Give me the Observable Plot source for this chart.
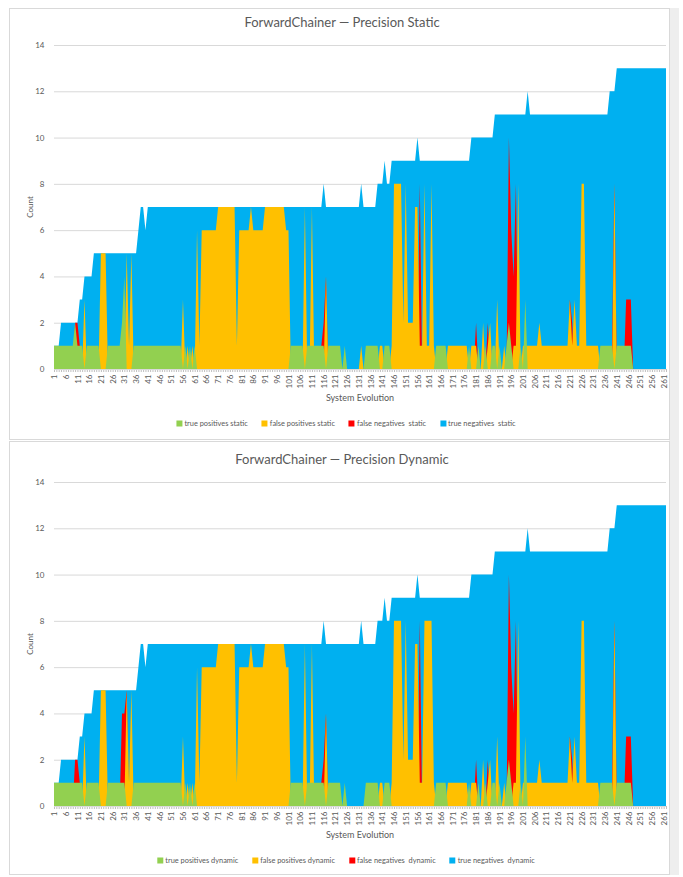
<!DOCTYPE html>
<html>
<head>
<meta charset="utf-8">
<script src="https://cdn.jsdelivr.net/npm/d3@7"></script>
<script src="https://cdn.jsdelivr.net/npm/@observablehq/plot@0.6"></script>
<style>
  html, body { margin: 0; padding: 0; background: #ffffff; }
  body { width: 683px; height: 877px; position: relative; overflow: hidden; font-family: Lato, "Open Sans", sans-serif; color: #595959; }
  .frame { position: absolute; border: 1px solid #d9d9d9; box-sizing: border-box; background: #ffffff; }
  .band { position: absolute; background: #eeeeee; }
  .txt { position: absolute; white-space: nowrap; color: #595959; }
  .legend { position: absolute; display: flex; gap: 14px; align-items: center; transform: translate(-50%, -50%); font-size: 7.4px; color: #595959; white-space: nowrap; }
  .legend .item { display: flex; align-items: center; }
  .legend .sw { width: 6px; height: 6px; margin-right: 2px; }
  svg [aria-label="x-axis tick"] path { stroke: #bfbfbf; }
</style>
</head>
<body>
<script>
// ---------- data ----------
const evolution = [
1,2,3,4,5,6,7,8,9,10,
11,12,13,14,15,16,17,18,19,20,
21,22,23,24,25,26,27,28,29,30,
31,32,33,34,35,36,37,38,39,40,
41,42,43,44,45,46,47,48,49,50,
51,52,53,54,55,56,57,58,59,60,
61,62,63,64,65,66,67,68,69,70,
71,72,73,74,75,76,77,78,79,80,
81,82,83,84,85,86,87,88,89,90,
91,92,93,94,95,96,97,98,99,100,
101,102,103,104,105,106,107,108,109,110,
111,112,113,114,115,116,117,118,119,120,
121,122,123,124,125,126,127,128,129,130,
131,132,133,134,135,136,137,138,139,140,
141,142,143,144,145,146,147,148,149,150,
151,152,153,154,155,156,157,158,159,160,
161,162,163,164,165,166,167,168,169,170,
171,172,173,174,175,176,177,178,179,180,
181,182,183,184,185,186,187,188,189,190,
191,192,193,194,195,196,197,198,199,200,
201,202,203,204,205,206,207,208,209,210,
211,212,213,214,215,216,217,218,219,220,
221,222,223,224,225,226,227,228,229,230,
231,232,233,234,235,236,237,238,239,240,
241,242,243,244,245,246,247,248,249,250,
251,252,253,254,255,256,257,258,259,260,
261,262];

const tickLabels = [1,6,11,16,21,26,31,36,41,46,51,56,61,66,71,76,81,86,91,96,101,106,111,116,121,126,131,136,141,146,151,156,161,166,171,176,181,186,191,196,201,206,211,216,221,226,231,236,241,246,251,256,261];
const yTicks = [0,2,4,6,8,10,12,14];

const seriesNames = ["true positives", "false positives", "false negatives ", "true negatives "];
const seriesColors = ["#92d050", "#ffc000", "#ff0000", "#00b0f0"];

// ---- static ----
const tpStatic = [
1,1,1,1,1,1,1,1,1,2,
1,1,1,0,1,1,1,1,1,1,
0,0,0,1,1,1,1,1,1,2,
4,0,0,0,1,1,1,1,1,1,
1,1,1,1,1,1,1,1,1,1,
1,1,1,1,1,0,1,0,1,0,
1,0,0,0,0,0,0,0,0,0,
0,0,0,0,0,0,0,0,0,0,
0,0,0,0,0,0,0,0,0,0,
0,0,0,0,0,0,0,0,0,0,
0,1,1,1,1,1,1,0,1,1,
1,1,1,1,1,1,0,1,1,1,
1,1,1,0,1,0,0,0,0,0,
0,0,0,1,1,1,1,1,1,0,
0,1,1,1,0,0,0,0,0,0,
0,0,0,0,0,0,0,0,0,0,
0,0,0,1,1,1,1,1,0,0,
0,0,0,0,0,0,0,1,0,0,
0,1,0,0,1,0,0,1,1,0,
1,0,0,1,2,1,0,0,0,1,
0,3,0,0,0,0,0,0,0,0,
0,0,0,0,0,0,0,0,0,0,
0,0,0,0,0,0,0,0,0,0,
0,0,0,1,1,1,1,1,1,0,
1,1,1,1,1,1,1,0,0,0,
0,0,0,0,0,0,0,0,0,0,
0,0];

const fpStatic = [
0,0,0,0,0,0,0,0,0,0,
0,0,0,3,0,0,0,0,0,0,
5,5,5,0,0,0,0,0,0,0,
0,5,1,5,0,0,0,0,0,0,
0,0,0,0,0,0,0,0,0,0,
0,0,0,0,0,3,0,1,0,1,
0,6,1,6,6,6,6,6,6,6,
7,7,7,7,7,7,7,7,1,6,
6,6,6,6,7,6,6,6,6,6,
7,7,7,7,7,7,7,7,7,6,
6,0,0,0,0,0,0,7,0,0,
7,0,0,0,0,0,4,0,0,0,
0,0,0,0,0,0,0,0,0,0,
0,1,0,0,0,0,0,0,0,1,
1,0,0,0,1,8,8,8,8,2,
8,2,2,2,7,7,1,1,8,1,
1,8,1,0,0,0,0,0,1,1,
1,1,1,1,1,1,1,0,1,1,
1,0,0,2,0,1,2,0,0,3,
0,0,1,0,0,0,1,1,8,0,
1,1,1,1,1,1,1,2,1,1,
1,1,1,1,1,1,1,1,1,1,
3,1,3,1,1,8,8,1,1,1,
1,1,1,0,0,0,0,0,0,8,
0,0,0,0,0,0,0,0,0,0,
0,0,0,0,0,0,0,0,0,0,
0,0];

const fnStatic = [
0,0,0,0,0,0,0,0,0,2,
2,1,0,0,0,0,0,0,0,0,
0,0,0,0,0,0,0,0,0,0,
0,0,0,0,0,0,0,0,0,0,
0,0,0,0,0,0,0,0,0,0,
0,0,0,0,0,0,0,0,0,0,
0,0,0,0,0,0,0,0,0,0,
0,0,0,0,0,0,0,0,0,0,
0,0,0,0,0,0,0,0,0,0,
0,0,0,0,0,0,0,0,0,0,
0,0,0,0,0,0,0,0,0,0,
0,0,0,0,1,2,4,0,0,0,
0,0,0,0,0,0,0,0,0,0,
0,0,0,0,0,0,0,0,0,0,
0,0,0,0,0,0,0,0,0,0,
0,0,0,0,0,0,8,0,0,0,
0,0,0,0,0,0,0,0,0,0,
0,0,0,0,0,0,0,0,0,0,
2,0,0,0,0,2,0,0,0,0,
0,0,0,0,10,6,4,8,0,0,
0,0,0,0,0,0,0,0,0,0,
0,0,0,0,0,0,0,0,0,0,
3,2,0,0,0,0,0,0,0,0,
0,0,0,0,0,0,0,0,1,8,
0,0,0,0,3,3,3,0,0,0,
0,0,0,0,0,0,0,0,0,0,
0,0];

const tnStatic = [
1,1,1,2,2,2,2,2,2,2,
2,3,3,4,4,4,4,5,5,5,
5,5,5,5,5,5,5,5,5,5,
5,5,5,5,5,5,6,7,7,6,
7,7,7,7,7,7,7,7,7,7,
7,7,7,7,7,7,7,7,7,7,
7,7,7,7,7,7,7,7,7,7,
7,7,7,7,7,7,7,7,7,7,
7,7,7,7,7,7,7,7,7,7,
7,7,7,7,7,7,7,7,7,7,
7,7,7,7,7,7,7,7,7,7,
7,7,7,7,7,8,7,7,7,7,
7,7,7,7,7,7,7,7,7,7,
7,8,7,7,7,7,7,7,8,8,
8,9,8,8,9,9,9,9,9,9,
9,9,9,9,9,10,9,9,9,9,
9,9,9,9,9,9,9,9,9,9,
9,9,9,9,9,9,9,9,10,10,
10,10,10,10,10,10,10,10,11,11,
11,11,11,11,11,11,11,11,11,11,
11,11,12,11,11,11,11,11,11,11,
11,11,11,11,11,11,11,11,11,11,
11,11,11,11,11,11,11,11,11,11,
11,11,11,11,11,11,11,12,12,12,
13,13,13,13,13,13,13,13,13,13,
13,13,13,13,13,13,13,13,13,13,
13,13];

// ---- dynamic ----
const tpDynamic = [
1,1,1,1,1,1,1,1,1,1,
1,1,1,0,1,1,1,1,1,1,
0,0,0,1,1,1,1,1,1,1,
1,0,0,0,1,1,1,1,1,1,
1,1,1,1,1,1,1,1,1,1,
1,1,1,1,1,0,1,0,1,0,
1,0,0,0,0,0,0,0,0,0,
0,0,0,0,0,0,0,0,0,0,
0,0,0,0,0,0,0,0,0,0,
0,0,0,0,0,0,0,0,0,0,
0,1,1,1,1,1,1,0,1,1,
1,1,1,1,1,1,0,1,1,1,
1,1,1,0,1,0,0,0,0,0,
0,0,0,1,1,1,1,1,1,0,
0,1,1,1,0,0,0,0,0,0,
0,0,0,0,0,0,0,0,0,0,
0,0,0,1,1,1,1,1,0,0,
0,0,0,0,0,0,0,1,0,0,
0,1,0,0,1,0,0,1,1,0,
1,0,0,1,2,1,0,0,0,1,
0,3,0,0,0,0,0,0,0,0,
0,0,0,0,0,0,0,0,0,0,
0,0,0,0,0,0,0,0,0,0,
0,0,0,1,1,1,1,1,1,0,
1,1,1,1,1,1,1,0,0,0,
0,0,0,0,0,0,0,0,0,0,
0,0];

const fpDynamic = [
0,0,0,0,0,0,0,0,0,0,
0,0,0,3,0,0,0,0,0,0,
5,5,5,0,0,0,0,0,0,0,
0,5,1,5,0,0,0,0,0,0,
0,0,0,0,0,0,0,0,0,0,
0,0,0,0,0,3,0,1,0,1,
0,6,1,6,6,6,6,6,6,6,
7,7,7,7,7,7,7,7,1,6,
6,6,6,6,7,6,6,6,6,6,
7,7,7,7,7,7,7,7,7,6,
6,0,0,0,0,0,0,7,0,0,
7,0,0,0,0,0,4,0,0,0,
0,0,0,0,0,0,0,0,0,0,
0,0,0,0,0,0,0,0,0,1,
1,0,0,0,1,8,8,8,8,2,
8,2,2,2,7,7,1,1,8,8,
8,8,1,0,0,0,0,0,1,1,
1,1,1,1,1,1,1,0,1,1,
1,0,0,2,0,1,2,0,0,3,
0,0,1,0,0,0,1,1,8,0,
1,1,1,1,1,1,1,2,1,1,
1,1,1,1,1,1,1,1,1,1,
3,1,3,1,1,8,8,1,1,1,
1,1,1,0,0,0,0,0,0,8,
0,0,0,0,0,0,0,0,0,0,
0,0,0,0,0,0,0,0,0,0,
0,0];

const fnDynamic = [
0,0,0,0,0,0,0,0,0,2,
2,1,0,0,0,0,0,0,0,0,
0,0,0,0,0,0,0,0,0,4,
4,5,0,0,0,0,0,0,0,0,
0,0,0,0,0,0,0,0,0,0,
0,0,0,0,0,0,0,0,0,0,
0,0,0,0,0,0,0,0,0,0,
0,0,0,0,0,0,0,0,0,0,
0,0,0,0,0,0,0,0,0,0,
0,0,0,0,0,0,0,0,0,0,
0,0,0,0,0,0,0,0,0,0,
0,0,0,0,1,2,4,0,0,0,
0,0,0,0,0,0,0,0,0,0,
0,0,0,0,0,0,0,0,0,0,
0,0,0,0,0,0,0,0,0,0,
0,0,0,0,0,0,8,0,0,0,
0,0,0,0,0,0,0,0,0,0,
0,0,0,0,0,0,0,0,0,0,
2,0,0,0,0,2,0,0,0,0,
0,0,0,0,10,6,4,8,0,0,
0,0,0,0,0,0,0,0,0,0,
0,0,0,0,0,0,0,0,0,0,
3,2,0,0,0,0,0,0,0,0,
0,0,0,0,0,0,0,0,1,8,
0,0,0,0,3,3,3,0,0,0,
0,0,0,0,0,0,0,0,0,0,
0,0];

const tnDynamic = [
1,1,1,2,2,2,2,2,2,2,
2,3,3,4,4,4,4,5,5,5,
5,5,5,5,5,5,5,5,5,5,
5,5,5,5,5,5,6,7,7,6,
7,7,7,7,7,7,7,7,7,7,
7,7,7,7,7,7,7,7,7,7,
7,7,7,7,7,7,7,7,7,7,
7,7,7,7,7,7,7,7,7,7,
7,7,7,7,7,7,7,7,7,7,
7,7,7,7,7,7,7,7,7,7,
7,7,7,7,7,7,7,7,7,7,
7,7,7,7,7,8,7,7,7,7,
7,7,7,7,7,7,7,7,7,7,
7,8,7,7,7,7,7,7,8,8,
8,9,8,8,9,9,9,9,9,9,
9,9,9,9,9,10,9,9,9,9,
9,9,9,9,9,9,9,9,9,9,
9,9,9,9,9,9,9,9,10,10,
10,10,10,10,10,10,10,10,11,11,
11,11,11,11,11,11,11,11,11,11,
11,11,12,11,11,11,11,11,11,11,
11,11,11,11,11,11,11,11,11,11,
11,11,11,11,11,11,11,11,11,11,
11,11,11,11,11,11,11,12,12,12,
13,13,13,13,13,13,13,13,13,13,
13,13,13,13,13,13,13,13,13,13,
13,13];

// ---------- drawing ----------
function addText(str, x, y, size, opts = {}) {
  const d = document.createElement("div");
  d.className = "txt";
  d.textContent = str;
  d.style.fontSize = size + "px";
  d.style.left = x + "px";
  d.style.top = y + "px";
  d.style.transform = opts.rotate ? "translate(-50%,-50%) rotate(-90deg)" : "translate(-50%,-50%)";
  document.body.appendChild(d);
}

function drawPanel(base, title, suffix, tp, fp, fn, tn) {
  const rows = evolution.map((e, k) => ({e, tp: tp[k], fp: fp[k], fn: fn[k], tn: tn[k]}));
  const chart = Plot.plot({
    width: 659,
    height: 400,
    marginLeft: 44,
    marginRight: 3,
    marginTop: 36,
    marginBottom: 40,
    style: {fontFamily: "Lato, 'Open Sans', sans-serif", fontSize: "8px", color: "#595959", background: "transparent", overflow: "visible"},
    x: {type: "linear", domain: [1, 262], ticks: evolution, tickSize: 3, tickPadding: 2, tickRotate: -90,
        tickFormat: d => tickLabels.includes(d) ? String(d) : "", label: null},
    y: {domain: [0, 14], ticks: yTicks, tickSize: 0, tickPadding: 10, label: null},
    marks: [
      Plot.ruleY(yTicks, {stroke: "#d9d9d9", strokeWidth: 1}),
      Plot.areaY(rows, {x: "e", y1: 0, y2: "tn", fill: seriesColors[3]}),
      Plot.areaY(rows, {x: "e", y1: 0, y2: "fn", fill: seriesColors[2]}),
      Plot.areaY(rows, {x: "e", y1: 0, y2: "fp", fill: seriesColors[1]}),
      Plot.areaY(rows, {x: "e", y1: 0, y2: "tp", fill: seriesColors[0]})
    ]
  });
  chart.style.position = "absolute";
  chart.style.left = "10px";
  chart.style.top = (base + 1) + "px";
  document.body.appendChild(chart);

  addText(title, 342, base + 14, 13);
  addText("Count", 30, base + 199, 8, {rotate: true});
  addText("System Evolution", 360, base + 389, 9);

  const lg = document.createElement("div");
  lg.className = "legend";
  lg.style.left = "346px";
  lg.style.top = (base + 415) + "px";
  seriesNames.forEach((n, k) => {
    const it = document.createElement("div");
    it.className = "item";
    const sw = document.createElement("div");
    sw.className = "sw";
    sw.style.background = seriesColors[k];
    const t = document.createElement("span");
    t.textContent = n + " " + suffix;
    t.style.whiteSpace = "pre";
    it.appendChild(sw);
    it.appendChild(t);
    lg.appendChild(it);
  });
  document.body.appendChild(lg);
}

// frames
function frame(l, t, w, h) {
  const f = document.createElement("div");
  f.className = "frame";
  f.style.left = l + "px"; f.style.top = t + "px";
  f.style.width = w + "px"; f.style.height = h + "px";
  document.body.appendChild(f);
}
const band = document.createElement("div");
band.className = "band";
band.style.left = "669px"; band.style.top = "8px"; band.style.width = "10px"; band.style.height = "867px";
document.body.appendChild(band);
frame(9, 8, 661, 432);
frame(9, 441, 661, 434);

drawPanel(8, "ForwardChainer — Precision Static", "static", tpStatic, fpStatic, fnStatic, tnStatic);
drawPanel(445, "ForwardChainer — Precision Dynamic", "dynamic", tpDynamic, fpDynamic, fnDynamic, tnDynamic);
</script>
</body>
</html>
